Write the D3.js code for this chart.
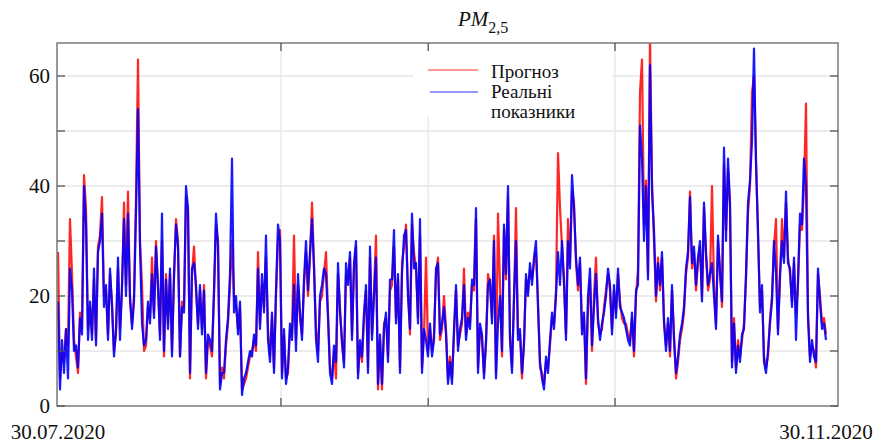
<!DOCTYPE html>
<html>
<head>
<meta charset="utf-8">
<script src="https://cdn.jsdelivr.net/npm/d3@7"></script>
<style>
  body { margin: 0; background: #fff; }
  svg { display: block; font-family: "Liberation Serif", "Times New Roman", serif; }
</style>
</head>
<body>
<svg class="chart" width="879" height="444"></svg>
<script>
const startLabel = `30.07.2020`;
const endLabel = `30.11.2020`;
const yTicks = [0, 10, 20, 30, 40, 50, 60];
const yLabels = [0, 20, 40, 60];
const gridDates = [`2020-09-03T17:00`, `2020-09-27T07:00`, `2020-10-27T05:00`];
const legendNames = [`Прогноз`, `Реальні`, `показники`];

// прогноз (red)
const forecast = [
  28,5,10,8,14,11,34,24,12,9, 6,17,14,42,36,14,18,13,23,12, 29,31,38,20,21,13,24,19,10,13,
  25,14,21,37,22,39,19,15,20,38, 63,30,22,10,11,18,16,27,17,30, 21,13,30,9,24,15,24,10,23,34,
  30,9,19,18,38,35,5,
  24,29,21,15,21,14,22,5,12,11, 9,20,33,30,4,7,5,11,15,22, 30,20,18,14,18,3,4,5,7,9,
  10,12,10,28,15,22,18,27,14,9, 16,7,20,30,32,6,13,5,6,14, 13,31,12,22,16,13,22,28,20,27,
  37,26,14,10,19,
  20,24,28,17,7,5,10,5,24,18, 11,8,24,23,27,13,25,29,6,11, 8,16,21,7,27,13,21,31,3,12,
  3,15,16,9,21,22,29,16,23,7, 26,29,33,21,13,33,28,25,16,31, 7,13,27,10,14,10,13,24,27,12,
  14,20,14,5,9,
  5,13,21,11,13,15,25,13,17,15, 22,21,34,7,14,12,6,11,24,22, 16,31,6,35,22,9,32,23,38,13,
  7,19,36,13,13,5,12,23,21,25, 23,26,28,19,7,6,4,8,7,11, 16,15,21,46,36,29,22,13,34,26,
  39,37,26,21,26,
  14,16,4,18,23,10,20,27,15,13, 14,18,21,24,21,14,21,17,24,19, 16,15,15,13,12,16,9,20,25,57,
  63,33,41,24,67,41,30,19,27,21, 27,16,11,15,9,21,13,5,8,12, 14,17,24,27,39,25,28,21,26,29,
  20,36,27,21,23,
  40,22,15,30,25,18,44,32,43,36, 8,16,7,12,9,12,15,23,35,40, 57,60,45,31,18,21,9,7,9,16,
  20,29,34,14,23,34,27,37,27,24, 19,26,17,22,33,32,40,55,17,9, 11,10,7,24,20,15,16,13
];

// реальні показники (blue)
const real = [
  19,3,12,6,14,5,25,21,10,11, 7,16,13,40,33,12,19,12,25,11, 28,30,35,18,22,12,25,18,9,14,
  27,12,22,34,20,35,20,14,19,35, 54,29,15,11,12,19,15,24,16,29, 22,12,35,10,23,14,25,9,24,33,
  29,9,18,17,40,36,6,
  25,26,22,14,22,13,21,6,13,12, 10,21,35,29,3,6,6,12,16,24, 45,17,20,13,19,2,5,6,8,10,
  9,13,11,25,14,24,17,31,12,8, 17,6,21,33,30,5,14,4,7,15, 12,22,10,24,17,12,23,30,21,28,
  34,25,12,8,20,
  22,25,24,16,6,4,11,8,26,17, 12,7,26,22,28,12,26,30,5,12, 9,17,22,6,29,12,20,27,4,13,
  4,14,17,8,23,23,32,15,24,6, 24,31,32,20,14,35,25,26,15,34, 6,14,12,9,15,9,12,25,26,13,
  15,18,13,4,8,
  4,14,22,10,14,16,22,12,16,14, 23,22,36,6,15,13,5,12,22,23, 15,30,5,15,20,10,33,24,40,12,
  6,20,30,12,14,6,11,24,20,26, 22,27,30,18,8,5,3,9,6,12, 17,14,20,28,22,30,23,12,30,25,
  42,36,27,22,27,
  13,17,5,20,25,11,18,24,16,12, 15,17,20,25,22,13,22,16,25,18, 17,16,14,12,11,17,10,21,22,51,
  45,30,40,23,62,39,32,20,26,22, 28,15,10,16,10,22,12,6,9,13, 15,18,25,28,38,26,29,22,27,30,
  19,37,28,22,24,
  26,20,14,31,24,19,47,30,45,37, 7,15,6,11,8,13,14,24,37,41, 48,65,44,32,17,22,8,6,10,15,
  19,30,24,13,24,30,26,39,26,25, 18,27,12,23,35,33,45,40,16,8, 12,9,8,25,19,14,15,12
];

const parseLabel = d3.timeParse(`%d.%m.%Y`);
const parseGrid = d3.timeParse(`%Y-%m-%dT%H:%M`);

const frame = {left: 57, right: 838, top: 43, bottom: 406};

const start = parseLabel(startLabel);
const end = parseLabel(endLabel);

const x = d3.scaleTime()
  .domain([start, end])
  .range([58, 826]);

const y = d3.scaleLinear()
  .domain([0, 66])
  .range([frame.bottom, frame.top]);

const dateAt = (i, n) => new Date(+start + i * (end - start) / (n - 1));

const svg = d3.select(`.chart`);

svg.append(`defs`).append(`clipPath`)
  .attr(`id`, `plotClip`)
  .append(`rect`)
  .attr(`x`, frame.left)
  .attr(`y`, frame.top)
  .attr(`width`, frame.right - frame.left)
  .attr(`height`, frame.bottom - frame.top);

// grid
const grid = svg.append(`g`)
  .attr(`stroke`, `#e6e6e6`)
  .attr(`stroke-width`, 1.3);

grid.selectAll(`.hgrid`)
  .data(yTicks.filter(d => d > 0))
  .enter().append(`line`)
  .attr(`x1`, frame.left)
  .attr(`x2`, frame.right)
  .attr(`y1`, d => y(d))
  .attr(`y2`, d => y(d));

grid.selectAll(`.vgrid`)
  .data(gridDates.map(parseGrid))
  .enter().append(`line`)
  .attr(`x1`, d => x(d))
  .attr(`x2`, d => x(d))
  .attr(`y1`, frame.top)
  .attr(`y2`, frame.bottom);

// series
const drawSeries = (values, colour, opacity, width) => {
  const line = d3.line()
    .x((d, i) => x(dateAt(i, values.length)))
    .y(d => y(d));

  svg.append(`path`)
    .datum(values)
    .attr(`clip-path`, `url(#plotClip)`)
    .attr(`fill`, `none`)
    .attr(`stroke`, colour)
    .attr(`stroke-opacity`, opacity)
    .attr(`stroke-width`, width)
    .attr(`stroke-linejoin`, `round`)
    .attr(`d`, line);
};

drawSeries(forecast, `#ff0000`, 0.85, 2.2);
drawSeries(real, `#0000ff`, 0.9, 2.2);

// legend box (hides grid under it)
const legend = svg.append(`g`);

legend.append(`rect`)
  .attr(`x`, 413)
  .attr(`y`, frame.top + 1)
  .attr(`width`, 199)
  .attr(`height`, 73)
  .attr(`fill`, `#fff`);

legend.append(`line`)
  .attr(`x1`, 428).attr(`x2`, 478)
  .attr(`y1`, 70).attr(`y2`, 70)
  .attr(`stroke`, `#ff0000`)
  .attr(`stroke-opacity`, 0.55)
  .attr(`stroke-width`, 1.6);

legend.append(`line`)
  .attr(`x1`, 430).attr(`x2`, 478)
  .attr(`y1`, 92).attr(`y2`, 92)
  .attr(`stroke`, `#0000ff`)
  .attr(`stroke-opacity`, 0.55)
  .attr(`stroke-width`, 1.6);

legend.selectAll(`text`)
  .data(legendNames)
  .enter().append(`text`)
  .attr(`x`, 491)
  .attr(`y`, (d, i) => 78 + i * 20)
  .attr(`font-size`, `19px`)
  .attr(`fill`, `#111`)
  .text(d => d);

// frame and ticks
svg.append(`rect`)
  .attr(`x`, frame.left)
  .attr(`y`, frame.top)
  .attr(`width`, frame.right - frame.left)
  .attr(`height`, frame.bottom - frame.top)
  .attr(`fill`, `none`)
  .attr(`stroke`, `#7a7a7a`)
  .attr(`stroke-width`, 1.5);

const ticks = svg.append(`g`)
  .attr(`stroke`, `#555`)
  .attr(`stroke-width`, 1.3);

yTicks.forEach(t => {
  ticks.append(`line`)
    .attr(`x1`, frame.left).attr(`x2`, frame.left + 8)
    .attr(`y1`, y(t)).attr(`y2`, y(t));
  ticks.append(`line`)
    .attr(`x1`, frame.right).attr(`x2`, frame.right - 8)
    .attr(`y1`, y(t)).attr(`y2`, y(t));
});

gridDates.map(parseGrid).forEach(d => {
  ticks.append(`line`)
    .attr(`x1`, x(d)).attr(`x2`, x(d))
    .attr(`y1`, frame.top).attr(`y2`, frame.top + 8);
  ticks.append(`line`)
    .attr(`x1`, x(d)).attr(`x2`, x(d))
    .attr(`y1`, frame.bottom).attr(`y2`, frame.bottom - 8);
});

// labels
svg.selectAll(`.ylabel`)
  .data(yLabels)
  .enter().append(`text`)
  .attr(`x`, 50)
  .attr(`y`, d => y(d))
  .attr(`dy`, `.35em`)
  .attr(`text-anchor`, `end`)
  .attr(`font-size`, `21px`)
  .attr(`fill`, `#111`)
  .text(d => d);

svg.selectAll(`.xlabel`)
  .data([startLabel, endLabel])
  .enter().append(`text`)
  .attr(`x`, d => x(parseLabel(d)))
  .attr(`y`, 439)
  .attr(`text-anchor`, `middle`)
  .attr(`font-size`, `21px`)
  .attr(`fill`, `#111`)
  .text(d => d);

const title = svg.append(`text`)
  .attr(`x`, 458)
  .attr(`y`, 26)
  .attr(`font-size`, `21px`)
  .attr(`fill`, `#111`);

title.append(`tspan`)
  .attr(`font-style`, `italic`)
  .text(`PM`);

title.append(`tspan`)
  .attr(`dy`, 7)
  .attr(`font-size`, `16px`)
  .text(`2,5`);
</script>
</body>
</html>
